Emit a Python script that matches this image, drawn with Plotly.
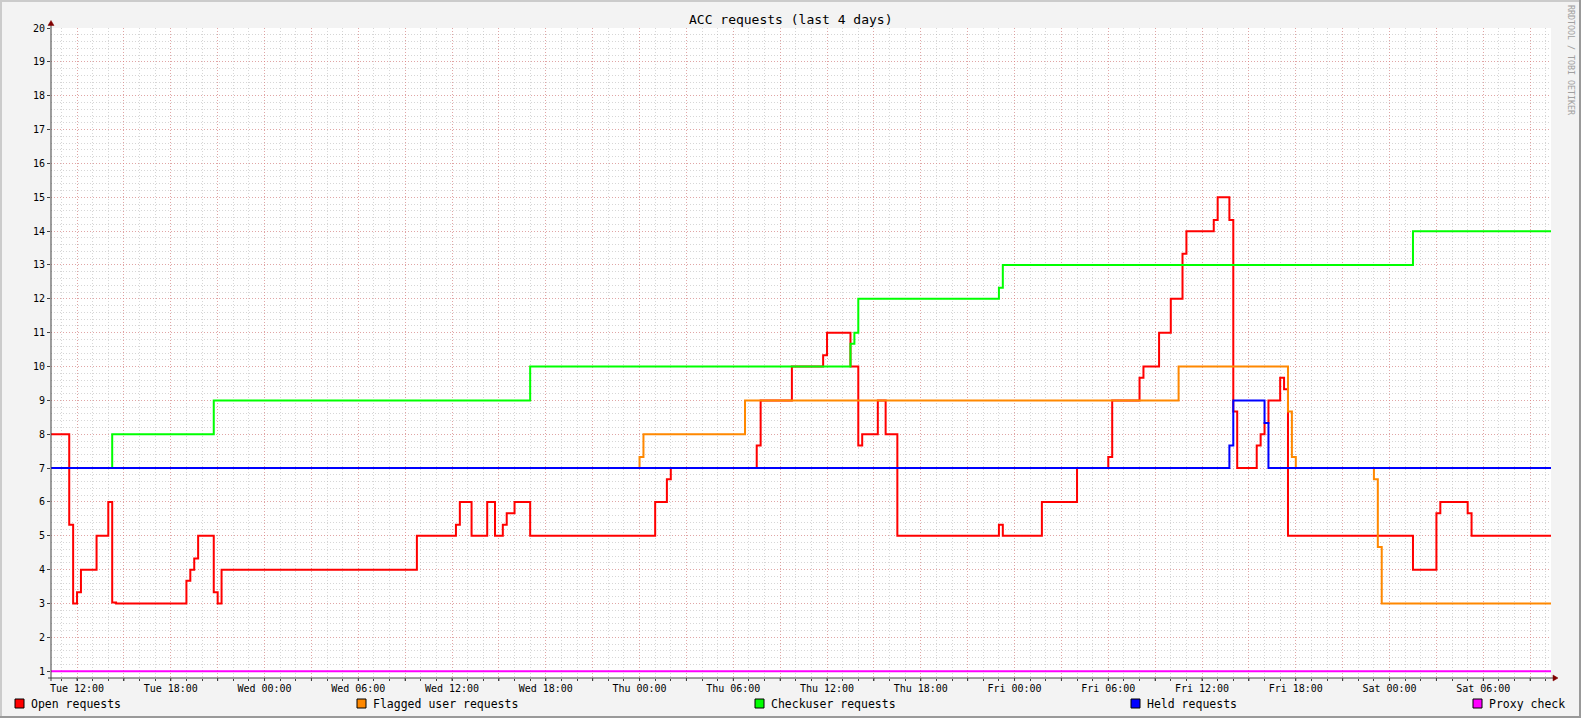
import plotly.graph_objects as go
import pandas as pd

# ---------------- data ----------------
title_text = "ACC requests (last 4 days)"
watermark_text = "RRDTOOL / TOBI OETIKER"
range_start = "2014-01-07 10:20"
range_end = "2014-01-11 10:20"

series_names = ["Open requests", "Flagged user requests", "Checkuser requests",
                "Held requests", "Proxy check"]
series_colors = ["#FF0000", "#FF8800", "#00FF00", "#0000FF", "#FF00FF"]

open_times = [
    "2014-01-07 10:20", "2014-01-07 11:30", "2014-01-07 11:45", "2014-01-07 12:00",
    "2014-01-07 12:15", "2014-01-07 13:15", "2014-01-07 14:00", "2014-01-07 14:15",
    "2014-01-07 14:30", "2014-01-07 19:00", "2014-01-07 19:15", "2014-01-07 19:30",
    "2014-01-07 19:45", "2014-01-07 20:45", "2014-01-07 21:00", "2014-01-07 21:15",
    "2014-01-08 09:45", "2014-01-08 12:15", "2014-01-08 12:30", "2014-01-08 13:15",
    "2014-01-08 14:15", "2014-01-08 14:45", "2014-01-08 15:15", "2014-01-08 15:30",
    "2014-01-08 16:00", "2014-01-08 17:00", "2014-01-09 01:00", "2014-01-09 01:45",
    "2014-01-09 02:00", "2014-01-09 07:30", "2014-01-09 07:45", "2014-01-09 09:45",
    "2014-01-09 11:45", "2014-01-09 12:00", "2014-01-09 13:30", "2014-01-09 14:00",
    "2014-01-09 14:15", "2014-01-09 15:15", "2014-01-09 15:45", "2014-01-09 16:30",
    "2014-01-09 23:00", "2014-01-09 23:15", "2014-01-10 01:45", "2014-01-10 04:00",
    "2014-01-10 06:00", "2014-01-10 06:15", "2014-01-10 08:00", "2014-01-10 08:15",
    "2014-01-10 09:15", "2014-01-10 10:00", "2014-01-10 10:45", "2014-01-10 11:00",
    "2014-01-10 12:45", "2014-01-10 13:00", "2014-01-10 13:45", "2014-01-10 14:00",
    "2014-01-10 14:15", "2014-01-10 15:30", "2014-01-10 15:45", "2014-01-10 16:00",
    "2014-01-10 16:15", "2014-01-10 17:00", "2014-01-10 17:15", "2014-01-10 17:30",
    "2014-01-11 01:30", "2014-01-11 03:00", "2014-01-11 03:15", "2014-01-11 05:00",
    "2014-01-11 05:15", "2014-01-11 10:20",
]
open_values = [
    8, 5.33, 3, 3.33,
    4, 5, 6, 3.03,
    3, 3.67, 4, 4.33,
    5, 3.33, 3, 4,
    5, 5.33, 6, 5,
    6, 5, 5.33, 5.67,
    6, 5, 6, 6.67,
    7, 7.67, 9, 10,
    10.33, 11, 10, 7.67,
    8, 9, 8, 5,
    5.33, 5, 6, 7,
    7.33, 9, 9.67, 10,
    11, 12, 13.33, 14,
    14.33, 15, 14.33, 8.67,
    7, 7.67, 8, 8.33,
    9, 9.67, 9.33, 5,
    4, 5.67, 6, 5.67,
    5, 5,
]

flagged_times = [
    "2014-01-07 10:20", "2014-01-09 00:00", "2014-01-09 00:15", "2014-01-09 06:45",
    "2014-01-10 10:30", "2014-01-10 17:30", "2014-01-10 17:45", "2014-01-10 18:00",
    "2014-01-10 23:00", "2014-01-10 23:15", "2014-01-10 23:30", "2014-01-11 10:20",
]
flagged_values = [7, 7.33, 8, 9, 10, 8.67, 7.33, 7, 6.67, 4.67, 3, 3]

checkuser_times = [
    "2014-01-07 10:20", "2014-01-07 14:15", "2014-01-07 20:45", "2014-01-08 17:00",
    "2014-01-09 13:30", "2014-01-09 13:45", "2014-01-09 14:00", "2014-01-09 23:00",
    "2014-01-09 23:15", "2014-01-11 01:30", "2014-01-11 10:20",
]
checkuser_values = [7, 8, 9, 10, 10.67, 11, 12, 12.33, 13, 14, 14]

held_times = [
    "2014-01-07 10:20", "2014-01-10 13:45", "2014-01-10 14:00", "2014-01-10 16:00",
    "2014-01-10 16:15", "2014-01-11 10:20",
]
held_values = [7, 7.67, 9, 8.33, 7, 7]

proxy_times = ["2014-01-07 10:20", "2014-01-11 10:20"]
proxy_values = [1, 1]

x_label_times = [
    "2014-01-07 12:00", "2014-01-07 18:00", "2014-01-08 00:00", "2014-01-08 06:00",
    "2014-01-08 12:00", "2014-01-08 18:00", "2014-01-09 00:00", "2014-01-09 06:00",
    "2014-01-09 12:00", "2014-01-09 18:00", "2014-01-10 00:00", "2014-01-10 06:00",
    "2014-01-10 12:00", "2014-01-10 18:00", "2014-01-11 00:00", "2014-01-11 06:00",
]
x_tick_labels = [
    "Tue 12:00", "Tue 18:00", "Wed 00:00", "Wed 06:00", "Wed 12:00", "Wed 18:00",
    "Thu 00:00", "Thu 06:00", "Thu 12:00", "Thu 18:00", "Fri 00:00", "Fri 06:00",
    "Fri 12:00", "Fri 18:00", "Sat 00:00", "Sat 06:00",
]
y_tick_values = list(range(1, 21))

# ---------------- layout geometry ----------------
W, H = 1581, 718
PL, PR, PT, PB = 51, 1551, 28, 678   # plot area in pixels
FONT = "DejaVu Sans Mono"


def px(xp):
    return (xp - PL) / (PR - PL)


def py(yp):
    return (PB - yp) / (PB - PT)


fig = go.Figure()
all_times = [open_times, flagged_times, checkuser_times, held_times, proxy_times]
all_values = [open_values, flagged_values, checkuser_values, held_values, proxy_values]
for name, color, t, v in zip(series_names, series_colors, all_times, all_values):
    fig.add_trace(go.Scatter(
        x=pd.to_datetime(t), y=v, name=name, mode="lines",
        line=dict(color=color, width=2, shape="hv"),
        showlegend=False, hoverinfo="skip",
    ))

# x ticks: major grid every 3 h (labels every 6 h), minor grid every hour
major_ticks = pd.date_range("2014-01-07 12:00", "2014-01-11 09:00", freq="3h")
label_map = dict(zip(pd.to_datetime(x_label_times), x_tick_labels))
major_text = [label_map.get(t, "") for t in major_ticks]
minor_ticks = pd.date_range("2014-01-07 11:00", "2014-01-11 10:00", freq="1h")

MGRID = "rgba(235,110,110,0.48)"
GRID = "rgba(170,170,170,0.48)"
DASH = "1px,2px"

fig.update_xaxes(
    range=[pd.Timestamp(range_start), pd.Timestamp(range_end)],
    tickmode="array", tickvals=major_ticks, ticktext=major_text,
    showgrid=True, gridcolor=MGRID, gridwidth=1, griddash=DASH,
    ticks="", ticklabelstandoff=3,
    tickfont=dict(family=FONT, size=10, color="#000000"),
    showline=False, zeroline=False, fixedrange=True,
    minor=dict(tickmode="array", tickvals=minor_ticks, showgrid=True,
               gridcolor=GRID, gridwidth=1, griddash=DASH,
               ticks="outside", ticklen=2, tickcolor="#404040"),
)
fig.update_yaxes(
    range=[0.8, 20],
    tickmode="array", tickvals=y_tick_values, ticktext=[str(v) for v in y_tick_values],
    showgrid=True, gridcolor=MGRID, gridwidth=1, griddash=DASH,
    ticks="outside", ticklen=3, tickcolor="#404040", tickwidth=1,
    tickfont=dict(family=FONT, size=10, color="#000000"),
    showline=False, zeroline=False, fixedrange=True,
    minor=dict(tickmode="linear", tick0=0, dtick=0.2, showgrid=True,
               gridcolor=GRID, gridwidth=1, griddash=DASH, ticks=""),
)

shapes = []
# image border (3D shade)
shapes += [
    dict(type="rect", xref="paper", yref="paper", x0=px(0), x1=px(2), y0=py(0), y1=py(H),
         fillcolor="#CBCBCB", line=dict(width=0), layer="above"),
    dict(type="rect", xref="paper", yref="paper", x0=px(0), x1=px(W), y0=py(0), y1=py(2),
         fillcolor="#CBCBCB", line=dict(width=0), layer="above"),
    dict(type="rect", xref="paper", yref="paper", x0=px(W - 2), x1=px(W), y0=py(0), y1=py(H),
         fillcolor="#999999", line=dict(width=0), layer="above"),
    dict(type="rect", xref="paper", yref="paper", x0=px(0), x1=px(W), y0=py(H - 2), y1=py(H),
         fillcolor="#999999", line=dict(width=0), layer="above"),
]
# axes lines and major x ticks
shapes += [
    dict(type="line", xref="paper", yref="paper", x0=px(48), x1=px(1553), y0=py(PB), y1=py(PB),
         line=dict(color="#404040", width=1), layer="above"),
    dict(type="line", xref="paper", yref="paper", x0=px(PL), x1=px(PL), y0=py(681), y1=py(25),
         line=dict(color="#404040", width=1), layer="above"),
]
for t in major_ticks:
    shapes.append(dict(type="line", xref="x", yref="paper", x0=t, x1=t,
                       y0=py(PB), y1=py(PB + 3),
                       line=dict(color="#404040", width=1), layer="above"))


def tri(points):
    path = "M " + " L ".join(f"{px(a)},{py(b)}" for a, b in points) + " Z"
    return dict(type="path", xref="paper", yref="paper", path=path,
                fillcolor="#800000", line=dict(color="#800000", width=0.5), layer="above")


shapes.append(tri([(1553, 675), (1558, 678), (1553, 681)]))
shapes.append(tri([(48, 25.5), (PL, 20.5), (54, 25.5)]))

# legend boxes
legend_box_x = [15, 357, 755, 1131, 1473]
annotations = []
for bx, name, color in zip(legend_box_x, series_names, series_colors):
    shapes.append(dict(type="rect", xref="paper", yref="paper",
                       x0=px(bx), x1=px(bx + 9), y0=py(699), y1=py(708),
                       fillcolor=color, line=dict(color="#000000", width=1), layer="above"))
    annotations.append(dict(xref="paper", yref="paper", x=px(bx + 14), y=py(704),
                            text=name, showarrow=False, xanchor="left", yanchor="middle",
                            font=dict(family=FONT, size=11.5, color="#000000")))

annotations.append(dict(xref="paper", yref="paper", x=px(790.5), y=py(19),
                        text=title_text, showarrow=False, xanchor="center", yanchor="middle",
                        font=dict(family=FONT, size=13, color="#000000")))
annotations.append(dict(xref="paper", yref="paper", x=px(1571), y=py(60),
                        text=watermark_text, showarrow=False, textangle=90,
                        xanchor="center", yanchor="middle",
                        font=dict(family=FONT, size=8.3, color="#A0A0A0")))

fig.update_layout(
    width=W, height=H, autosize=False,
    margin=dict(l=PL, r=W - PR, t=PT, b=H - PB, pad=0),
    paper_bgcolor="#F3F3F3", plot_bgcolor="#FFFFFF",
    shapes=shapes, annotations=annotations, showlegend=False,
)

fig.write_html("out.html", config={"displayModeBar": False},
               post_script="document.body.style.margin='0px';document.body.style.padding='0px';")
